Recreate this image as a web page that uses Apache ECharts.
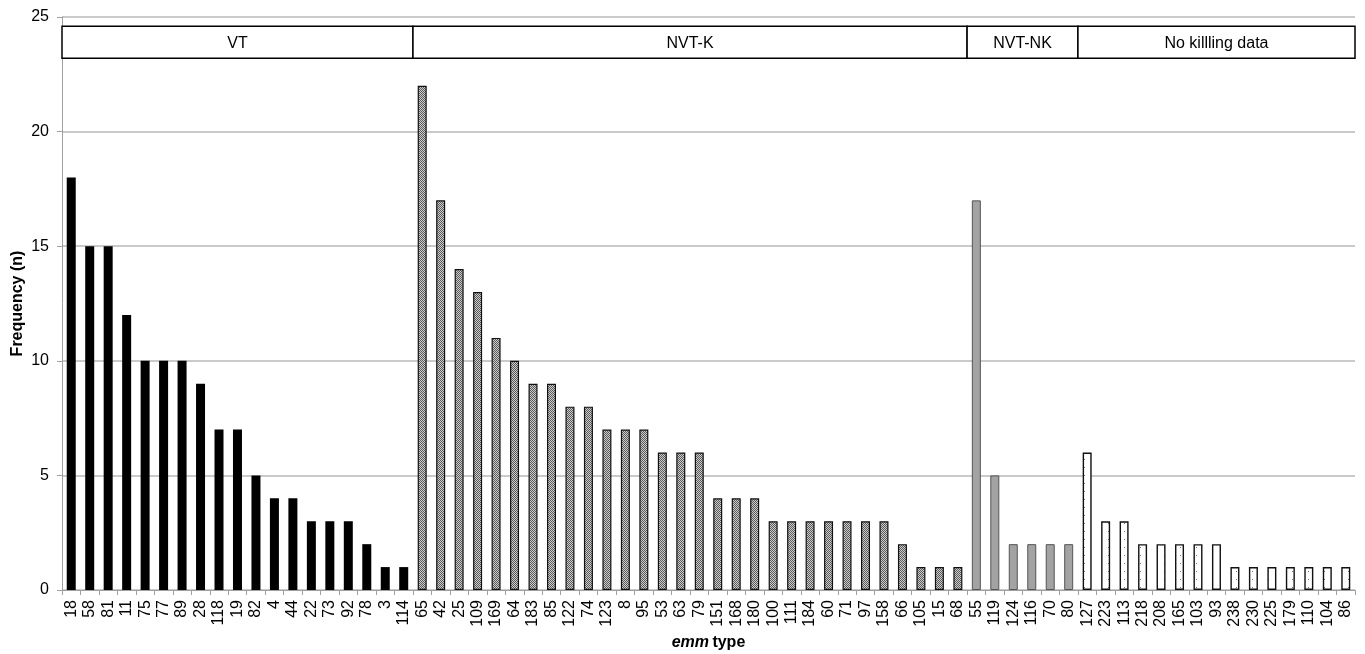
<!DOCTYPE html>
<html>
<head>
<meta charset="utf-8">
<script src="https://cdn.jsdelivr.net/npm/echarts@6/dist/echarts.min.js"></script>
<style>
  html, body { margin: 0; padding: 0; background: #fff; }
  #chart { width: 1365px; height: 654px; }
</style>
</head>
<body>
<div id="chart"></div>
<script>
// emm types per group, in plotted order
const vtTypes = ['18', '58', '81', '11', '75', '77', '89', '28', '118', '19', '82', '4', '44', '22', '73', '92', '78', '3', '114']
const vtCounts = [18, 15, 15, 12, 10, 10, 10, 9, 7, 7, 5, 4, 4, 3, 3, 3, 2, 1, 1]

const nvtkTypes = ['65', '42', '25', '109', '169', '64', '183', '85', '122', '74', '123', '8', '95', '53', '63', '79', '151', '168', '180', '100', '111', '184', '60', '71', '97', '158', '66', '105', '15', '68']
const nvtkCounts = [22, 17, 14, 13, 11, 10, 9, 9, 8, 8, 7, 7, 7, 6, 6, 6, 4, 4, 4, 3, 3, 3, 3, 3, 3, 3, 2, 1, 1, 1]

const nvtnkTypes = ['55', '119', '124', '116', '70', '80']
const nvtnkCounts = [17, 5, 2, 2, 2, 2]

const nokillTypes = ['127', '223', '113', '218', '208', '165', '103', '93', '238', '230', '225', '179', '110', '104', '86']
const nokillCounts = [6, 3, 3, 2, 2, 2, 2, 2, 1, 1, 1, 1, 1, 1, 1]

const groupNames = ['VT', 'NVT-K', 'NVT-NK', 'No killling data']
const yTicks = [0, 5, 10, 15, 20, 25]

const groups = [
  { name: groupNames[0], types: vtTypes, counts: vtCounts },
  { name: groupNames[1], types: nvtkTypes, counts: nvtkCounts },
  { name: groupNames[2], types: nvtnkTypes, counts: nvtnkCounts },
  { name: groupNames[3], types: nokillTypes, counts: nokillCounts }
]
const categories = [].concat(...groups.map((g) => g.types))

// fill patterns
const makePattern = (size, draw) => {
  const c = document.createElement('canvas')
  c.width = size
  c.height = size
  draw(c.getContext('2d'))
  return { image: c, repeat: 'repeat' }
}
const hatch = makePattern(2, (ctx) => {
  ctx.fillStyle = '#cccccc'
  ctx.fillRect(0, 0, 2, 2)
  ctx.fillStyle = '#5a5a5a'
  ctx.fillRect(0, 0, 1, 1)
  ctx.fillRect(1, 1, 1, 1)
})
const dots = makePattern(8, (ctx) => {
  ctx.fillStyle = '#ffffff'
  ctx.fillRect(0, 0, 8, 8)
  ctx.fillStyle = '#777777'
  ctx.fillRect(4, 3, 1, 1)
})

const styles = [
  { color: '#000000', borderColor: '#000000', borderWidth: 0 },
  { color: hatch, borderColor: '#111111', borderWidth: 1.2 },
  { color: '#a3a3a3', borderColor: '#555555', borderWidth: 1 },
  { color: dots, borderColor: '#111111', borderWidth: 1.4 }
]

let offset = 0
const series = groups.map((g, i) => {
  const data = categories.map(() => '-')
  g.counts.forEach((v, j) => {
    data[offset + j] = v
  })
  offset += g.types.length
  return {
    name: g.name,
    type: 'bar',
    stack: 'all',
    barWidth: 9,
    data: data,
    itemStyle: styles[i],
    emphasis: { disabled: true }
  }
})

const font = 'Liberation Sans, Arial, sans-serif'
const chart = echarts.init(document.getElementById('chart'))
chart.setOption({
  animation: false,
  grid: { left: 62, right: 10, top: 17, bottom: 64, containLabel: false, outerBoundsMode: 'none' },
  xAxis: {
    type: 'category',
    data: categories,
    name: '{i|emm} {b|type}',
    nameLocation: 'middle',
    nameGap: 44,
    nameTextStyle: {
      rich: {
        i: { fontFamily: font, fontSize: 16, fontWeight: 'bold', fontStyle: 'italic', color: '#000' },
        b: { fontFamily: font, fontSize: 16, fontWeight: 'bold', color: '#000' }
      }
    },
    axisLine: { lineStyle: { color: '#a0a0a0', width: 1 } },
    axisTick: { show: true, length: 5, lineStyle: { color: '#a0a0a0' } },
    axisLabel: { rotate: 90, interval: 0, fontFamily: font, fontSize: 16, color: '#000', margin: 10 }
  },
  yAxis: {
    type: 'value',
    min: yTicks[0],
    max: yTicks[yTicks.length - 1],
    interval: 5,
    name: 'Frequency (n)',
    nameLocation: 'middle',
    nameGap: 36,
    nameMoveOverlap: false,
    nameTextStyle: { fontFamily: font, fontSize: 16, fontWeight: 'bold', color: '#000' },
    axisLine: { show: true, lineStyle: { color: '#a0a0a0' } },
    axisTick: { show: true, length: 5, lineStyle: { color: '#a0a0a0' } },
    axisLabel: { fontFamily: font, fontSize: 16, color: '#000', margin: 13 },
    splitLine: { lineStyle: { color: '#b8b8b8', width: 1.5 } }
  },
  series: series
})

// group label boxes above the bars
const drawBoxes = () => {
  const band = chart.convertToPixel({ xAxisIndex: 0 }, 1) - chart.convertToPixel({ xAxisIndex: 0 }, 0)
  const yTop = chart.convertToPixel({ yAxisIndex: 0 }, 24.6)
  const yBot = chart.convertToPixel({ yAxisIndex: 0 }, 23.2)
  const elements = []
  let start = 0
  groups.forEach((g) => {
    const x0 = chart.convertToPixel({ xAxisIndex: 0 }, start) - band / 2
    const x1 = chart.convertToPixel({ xAxisIndex: 0 }, start + g.types.length - 1) + band / 2
    elements.push({
      type: 'rect',
      shape: { x: x0, y: yTop, width: x1 - x0, height: yBot - yTop },
      style: { fill: '#fff', stroke: '#000', lineWidth: 1.5 },
      z: 10
    })
    elements.push({
      type: 'text',
      x: (x0 + x1) / 2,
      y: (yTop + yBot) / 2 + 1,
      style: { text: g.name, font: '16px ' + font, fill: '#000', align: 'center', verticalAlign: 'middle' },
      z: 11
    })
    start += g.types.length
  })
  chart.setOption({ graphic: elements })
}
drawBoxes()
</script>
</body>
</html>
